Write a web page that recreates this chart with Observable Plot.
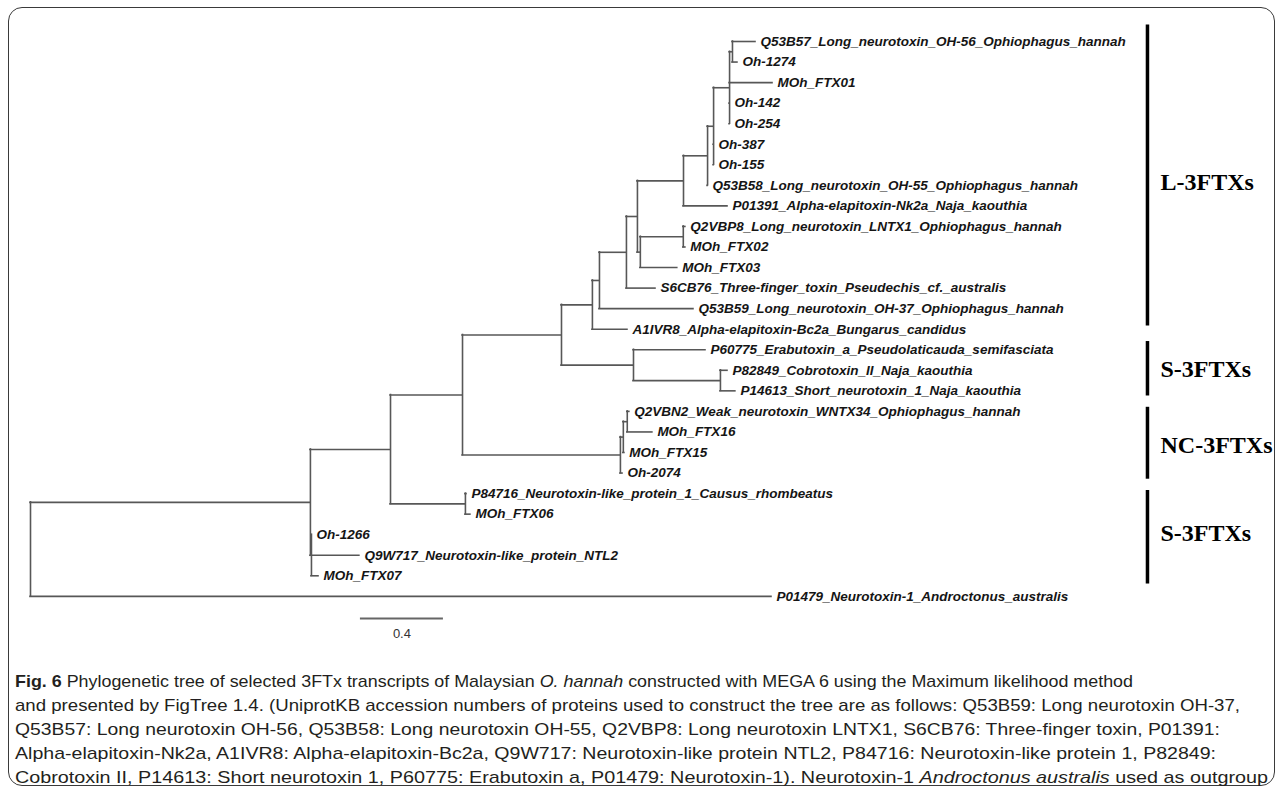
<!DOCTYPE html>
<html>
<head>
<meta charset="utf-8">
<script src="https://cdn.jsdelivr.net/npm/d3@7"></script>
<script src="https://cdn.jsdelivr.net/npm/@observablehq/plot@0.6"></script>
<style>
  html, body { margin: 0; padding: 0; background: #ffffff; }
  body { width: 1282px; height: 791px; position: relative; overflow: hidden; }
  #frame { position: absolute; left: 8px; top: 7px; width: 1267px; height: 779px;
           border: 1.5px solid #3a3a3a; border-radius: 14px; box-sizing: border-box; }
  #chart { position: absolute; left: 0; top: 0; }
  #caption { position: absolute; left: 0; top: 660px; }
</style>
</head>
<body>
<div id="frame"></div>
<div id="chart"></div>
<div id="caption"></div>
<script>
// ---------- DATA ----------
// leaves in display order (top to bottom)
const leafNames = [
  "Q53B57_Long_neurotoxin_OH-56_Ophiophagus_hannah",
  "Oh-1274",
  "MOh_FTX01",
  "Oh-142",
  "Oh-254",
  "Oh-387",
  "Oh-155",
  "Q53B58_Long_neurotoxin_OH-55_Ophiophagus_hannah",
  "P01391_Alpha-elapitoxin-Nk2a_Naja_kaouthia",
  "Q2VBP8_Long_neurotoxin_LNTX1_Ophiophagus_hannah",
  "MOh_FTX02",
  "MOh_FTX03",
  "S6CB76_Three-finger_toxin_Pseudechis_cf._australis",
  "Q53B59_Long_neurotoxin_OH-37_Ophiophagus_hannah",
  "A1IVR8_Alpha-elapitoxin-Bc2a_Bungarus_candidus",
  "P60775_Erabutoxin_a_Pseudolaticauda_semifasciata",
  "P82849_Cobrotoxin_II_Naja_kaouthia",
  "P14613_Short_neurotoxin_1_Naja_kaouthia",
  "Q2VBN2_Weak_neurotoxin_WNTX34_Ophiophagus_hannah",
  "MOh_FTX16",
  "MOh_FTX15",
  "Oh-2074",
  "P84716_Neurotoxin-like_protein_1_Causus_rhombeatus",
  "MOh_FTX06",
  "Oh-1266",
  "Q9W717_Neurotoxin-like_protein_NTL2",
  "MOh_FTX07",
  "P01479_Neurotoxin-1_Androctonus_australis"
];

// tree edges: child, parent, branch length (substitutions/site)
const edgeChild = [
  "A", leafNames[27],
  "B", "C",
  leafNames[24], leafNames[25], leafNames[26],
  "D", "E",
  leafNames[22], leafNames[23],
  "F", "G",
  "Ga", leafNames[21],
  "H", leafNames[20],
  leafNames[18], leafNames[19],
  "I", "J",
  leafNames[15], "K",
  leafNames[16], leafNames[17],
  "L", leafNames[14],
  "Q", leafNames[13],
  "O", leafNames[12],
  "N", "P",
  "R", leafNames[11],
  leafNames[9], leafNames[10],
  "S", leafNames[8],
  "X", leafNames[7],
  "V", leafNames[5], leafNames[6],
  "W", leafNames[2], leafNames[3], leafNames[4],
  leafNames[0], leafNames[1]
];
const edgeParent = [
  "root", "root",
  "A", "A",
  "C", "C", "C",
  "B", "B",
  "E", "E",
  "D", "D",
  "G", "G",
  "Ga", "Ga",
  "H", "H",
  "F", "F",
  "J", "J",
  "K", "K",
  "I", "I",
  "L", "L",
  "Q", "Q",
  "O", "O",
  "P", "P",
  "R", "R",
  "N", "N",
  "S", "S",
  "X", "X", "X",
  "V", "V", "V", "V",
  "W", "W"
];
const edgeLength = [
  1.349, 3.571,
  0.386, 0.005,
  0.000, 0.231, 0.034,
  0.347, 0.361,
  0.005, 0.024,
  0.477, 0.761,
  0.014, 0.010,
  0.019, 0.005,
  0.010, 0.121,
  0.149, 0.347,
  0.347, 0.419,
  0.034, 0.072,
  0.034, 0.169,
  0.130, 0.453,
  0.053, 0.140,
  0.222, 0.014,
  0.207, 0.178,
  0.010, 0.010,
  0.116, 0.212,
  0.029, 0.000,
  0.077, 0.000, 0.000,
  0.014, 0.207, 0.000, 0.000,
  0.111, 0.024
];

// clade annotations (in leaf-row units)
const groupNames = ["L-3FTXs", "S-3FTXs", "NC-3FTXs", "S-3FTXs"];
const groupFrom  = [-0.8, 14.6, 17.8, 21.85];
const groupTo    = [13.85, 17.25, 21.3, 26.4];
const groupLabelRow = [6.85, 15.95, 19.65, 23.95];

const scaleBarLength = [0.4];
const scaleBarLabel = ["0.4"];

const captionLines = [
  [["b", "Fig. 6"], ["n", " Phylogenetic tree of selected 3FTx transcripts of Malaysian "], ["i", "O. hannah"], ["n", " constructed with MEGA 6 using the Maximum likelihood method"]],
  [["n", "and presented by FigTree 1.4. (UniprotKB accession numbers of proteins used to construct the tree are as follows: Q53B59: Long neurotoxin OH-37,"]],
  [["n", "Q53B57: Long neurotoxin OH-56, Q53B58: Long neurotoxin OH-55, Q2VBP8: Long neurotoxin LNTX1, S6CB76: Three-finger toxin, P01391:"]],
  [["n", "Alpha-elapitoxin-Nk2a, A1IVR8: Alpha-elapitoxin-Bc2a, Q9W717: Neurotoxin-like protein NTL2, P84716: Neurotoxin-like protein 1, P82849:"]],
  [["n", "Cobrotoxin II, P14613: Short neurotoxin 1, P60775: Erabutoxin a, P01479: Neurotoxin-1). Neurotoxin-1 "], ["i", "Androctonus australis"], ["n", " used as outgroup"]]
];
const captionLineWidths = [1118, 1225, 1205, 1201, 1253];

// ---------- LAYOUT (computed from data) ----------
const edges = edgeChild.map((c, i) => ({child: c, parent: edgeParent[i], len: edgeLength[i]}));
const kids = d3.group(edges, d => d.parent);
const depth = new Map([["root", 0]]);
const row = new Map(leafNames.map((n, i) => [n, i]));
(function walk(node) {
  const ch = kids.get(node) || [];
  for (const e of ch) { depth.set(e.child, depth.get(node) + e.len); walk(e.child); }
  if (ch.length) {
    const ys = ch.map(e => row.get(e.child));
    row.set(node, (d3.min(ys) + d3.max(ys)) / 2);
  }
})("root");

const hSegs = edges.map(e => ({x1: depth.get(e.parent), x2: depth.get(e.child), y: row.get(e.child)}));
const vSegs = Array.from(kids, ([node, ch]) => {
  const ys = ch.map(e => row.get(e.child));
  return {x: depth.get(node), y1: d3.min(ys), y2: d3.max(ys)};
});
const leaves = leafNames.map((n, i) => ({name: n, x: depth.get(n), y: i}));
const groups = groupNames.map((g, i) => ({name: g, y1: groupFrom[i], y2: groupTo[i], ly: groupLabelRow[i]}));

const barX = 5.383;
const sbX = 1.59, sbY = 28.08;

const treeColor = "#575757";
const leafFont = "'Liberation Sans', Arial, sans-serif";

const chart = Plot.plot({
  width: 1282,
  height: 660,
  x: {domain: [0, 6.03], range: [30, 30 + 207.5 * 6.03], axis: null},
  y: {domain: [0, 27], range: [41, 41 + 20.55 * 27], axis: null},
  style: {background: "transparent", overflow: "visible"},
  marks: [
    Plot.ruleY(hSegs, {y: "y", x1: "x1", x2: "x2", stroke: treeColor, strokeWidth: 1.6, strokeLinecap: "square"}),
    Plot.ruleX(vSegs, {x: "x", y1: "y1", y2: "y2", stroke: treeColor, strokeWidth: 1.6, strokeLinecap: "square"}),
    Plot.text(leaves, {x: "x", y: "y", text: "name", dx: 5, textAnchor: "start",
      fontFamily: leafFont, fontStyle: "italic", fontWeight: "bold", fontSize: 13.5, fill: "#151515"}),
    Plot.ruleX(groups, {x: () => barX, y1: "y1", y2: "y2", stroke: "#000", strokeWidth: 3.5}),
    Plot.text(groups, {x: () => barX, y: "ly", text: "name", dx: 13, textAnchor: "start",
      fontFamily: "'Liberation Serif', 'Times New Roman', serif", fontWeight: "bold", fontSize: 24, fill: "#000"}),
    Plot.ruleY(scaleBarLength, {y: () => sbY, x1: () => sbX, x2: d => sbX + d, stroke: "#666", strokeWidth: 2}),
    Plot.text(scaleBarLabel, {x: () => sbX + scaleBarLength[0] / 2, y: () => sbY + 0.73, text: d => d,
      fontFamily: "'Liberation Sans Narrow', 'Liberation Sans', sans-serif", fontSize: 13, fill: "#333"})
  ]
});
document.getElementById("chart").appendChild(chart);

// ---------- CAPTION ----------
const cap = d3.select("#caption").append("svg").attr("width", 1282).attr("height", 131);
captionLines.forEach((parts, i) => {
  const t = cap.append("text")
    .attr("x", 15).attr("y", 27 + i * 24)
    .attr("textLength", captionLineWidths[i]).attr("lengthAdjust", "spacingAndGlyphs")
    .style("font-family", "'Liberation Sans Narrow', 'Liberation Sans', sans-serif")
    .style("font-size", "17px").style("fill", "#231f20");
  parts.forEach(([s, txt]) => {
    const ts = t.append("tspan").text(txt);
    if (s === "b") ts.style("font-weight", "bold");
    if (s === "i") ts.style("font-style", "italic");
  });
});
</script>
</body>
</html>
